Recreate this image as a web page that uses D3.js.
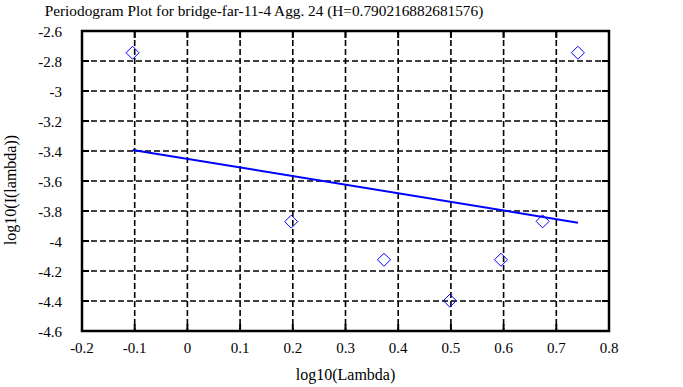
<!DOCTYPE html>
<html>
<head>
<meta charset="utf-8">
<script src="https://cdn.jsdelivr.net/npm/d3@7"></script>
<style>
  html, body { margin: 0; padding: 0; background: #fff; }
  svg { display: block; font-family: "Liberation Serif", "DejaVu Serif", serif; }
</style>
</head>
<body>
<svg id="chart"></svg>
<script>
// Chart size matches the browser window
const WIDTH = 683
const HEIGHT = 387
const PLOT = { left: 82, right: 609, top: 31, bottom: 331 }

const title = "Periodogram Plot for bridge-far-11-4 Agg. 24 (H=0.790216882681576)"
const xLabel = "log10(Lambda)"
const yLabel = "log10(I(lambda))"

// Periodogram points
const logLambda = [-0.104, 0.197, 0.373, 0.498, 0.595, 0.674, 0.741]
const logI = [-2.745, -3.871, -4.125, -4.398, -4.125, -3.869, -2.745]

// Fitted line end points
const fitX = [-0.104, 0.741]
const fitY = [-3.393, -3.878]

const xTicks = [-0.2, -0.1, 0, 0.1, 0.2, 0.3, 0.4, 0.5, 0.6, 0.7, 0.8]
const yTicks = [-4.6, -4.4, -4.2, -4, -3.8, -3.6, -3.4, -3.2, -3, -2.8, -2.6]

const svg = d3.select("#chart").attr("width", WIDTH).attr("height", HEIGHT)

const x = d3.scaleLinear().domain([-0.2, 0.8]).range([PLOT.left, PLOT.right])
const y = d3.scaleLinear().domain([-4.6, -2.6]).range([PLOT.bottom, PLOT.top])

const fmt = (d) => String(+d.toFixed(1))

// Dashed grid
const grid = svg.append("g")
  .attr("stroke", "#000")
  .attr("stroke-width", 1.6)
  .attr("stroke-dasharray", "6,3")
grid.selectAll(".gx").data(xTicks.slice(1, -1)).join("line")
  .attr("x1", (d) => x(d)).attr("x2", (d) => x(d))
  .attr("y1", PLOT.top).attr("y2", PLOT.bottom)
grid.selectAll(".gy").data(yTicks.slice(1, -1)).join("line")
  .attr("y1", (d) => y(d)).attr("y2", (d) => y(d))
  .attr("x1", PLOT.left).attr("x2", PLOT.right)

// Axes: ticks pointing inward on all four sides
const tickLen = 7
const axes = svg.append("g").attr("stroke", "#000").attr("stroke-width", 2)
axes.selectAll(".tb").data(xTicks).join("line")
  .attr("x1", (d) => x(d)).attr("x2", (d) => x(d))
  .attr("y1", PLOT.bottom).attr("y2", PLOT.bottom - tickLen)
axes.selectAll(".tt").data(xTicks).join("line")
  .attr("x1", (d) => x(d)).attr("x2", (d) => x(d))
  .attr("y1", PLOT.top).attr("y2", PLOT.top + tickLen)
axes.selectAll(".tl").data(yTicks).join("line")
  .attr("y1", (d) => y(d)).attr("y2", (d) => y(d))
  .attr("x1", PLOT.left).attr("x2", PLOT.left + tickLen)
axes.selectAll(".tr").data(yTicks).join("line")
  .attr("y1", (d) => y(d)).attr("y2", (d) => y(d))
  .attr("x1", PLOT.right).attr("x2", PLOT.right - tickLen)

svg.append("rect")
  .attr("x", PLOT.left).attr("y", PLOT.top)
  .attr("width", PLOT.right - PLOT.left).attr("height", PLOT.bottom - PLOT.top)
  .attr("fill", "none").attr("stroke", "#000").attr("stroke-width", 2.5)

// Tick labels
svg.append("g").selectAll("text").data(xTicks).join("text")
  .attr("x", (d) => x(d)).attr("y", PLOT.bottom + 22)
  .attr("text-anchor", "middle").attr("font-size", 15)
  .text(fmt)
svg.append("g").selectAll("text").data(yTicks).join("text")
  .attr("x", PLOT.left - 20).attr("y", (d) => y(d) + 6)
  .attr("text-anchor", "end").attr("font-size", 15)
  .text(fmt)

// Fit line
const line = d3.line().x((d) => x(d[0])).y((d) => y(d[1]))
svg.append("path")
  .attr("d", line(d3.zip(fitX, fitY)))
  .attr("fill", "none").attr("stroke", "#0000ff").attr("stroke-width", 2)

// Diamond markers
const r = 6.5
svg.append("g").selectAll("path").data(d3.zip(logLambda, logI)).join("path")
  .attr("transform", (d) => `translate(${x(d[0])},${y(d[1])})`)
  .attr("d", `M0,${-r}L${r},0L0,${r}L${-r},0Z`)
  .attr("fill", "none").attr("stroke", "#0000ff").attr("stroke-width", 1)

// Titles
svg.append("text")
  .attr("x", 264).attr("y", 16)
  .attr("text-anchor", "middle").attr("font-size", 15.3)
  .text(title)
svg.append("text")
  .attr("x", (PLOT.left + PLOT.right) / 2).attr("y", 380)
  .attr("text-anchor", "middle").attr("font-size", 16)
  .text(xLabel)
svg.append("text")
  .attr("transform", "translate(16,190) rotate(-90)")
  .attr("text-anchor", "middle").attr("font-size", 16)
  .text(yLabel)
</script>
</body>
</html>
